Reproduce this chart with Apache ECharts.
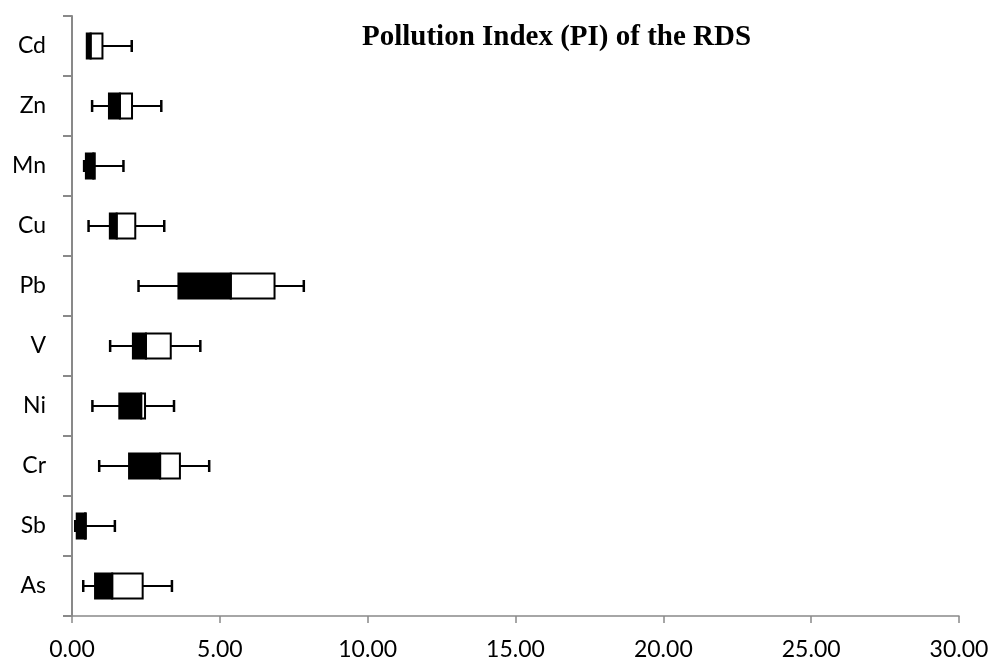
<!DOCTYPE html>
<html>
<head>
<meta charset="utf-8">
<script src="https://cdn.jsdelivr.net/npm/echarts@6/dist/echarts.min.js"></script>
<style>html,body{margin:0;padding:0;background:#fff;}#c{width:992px;height:664px;}</style>
</head>
<body>
<div id="c"></div>
<script>
// Categories bottom to top
const categories = ['As', 'Sb', 'Cr', 'Ni', 'V', 'Pb', 'Cu', 'Mn', 'Zn', 'Cd'];
const minVals    = [0.38, 0.11, 0.92, 0.69, 1.29, 2.25, 0.56, 0.41, 0.68, 0.50];
const q1Vals     = [0.78, 0.16, 1.93, 1.60, 2.06, 3.60, 1.28, 0.47, 1.25, 0.50];
const medianVals = [1.36, 0.44, 2.98, 2.34, 2.50, 5.37, 1.51, 0.72, 1.62, 0.63];
const q3Vals     = [2.39, 0.47, 3.65, 2.47, 3.34, 6.85, 2.14, 0.77, 2.03, 1.03];
const maxVals    = [3.38, 1.45, 4.64, 3.45, 4.34, 7.84, 3.12, 1.74, 3.02, 2.02];
const xTicks = [0, 5, 10, 15, 20, 25, 30];

const rows = categories.map((c, i) => [i, minVals[i], q1Vals[i], medianVals[i], q3Vals[i], maxVals[i]]);

function renderItem(params, api) {
  const yi = api.value(0);
  const pMin = api.coord([api.value(1), yi]);
  const pQ1 = api.coord([api.value(2), yi]);
  const pMd = api.coord([api.value(3), yi]);
  const pQ3 = api.coord([api.value(4), yi]);
  const pMax = api.coord([api.value(5), yi]);
  const band = api.size([0, 1])[1];
  const h = band * 0.42;
  const cy = pQ1[1];
  const capH = 12;
  const children = [];
  children.push({type: 'line', shape: {x1: pMin[0], y1: cy, x2: pQ1[0], y2: cy}, style: {stroke: '#000', lineWidth: 2}});
  children.push({type: 'line', shape: {x1: pQ3[0], y1: cy, x2: pMax[0], y2: cy}, style: {stroke: '#000', lineWidth: 2}});
  if (pQ1[0] - pMin[0] > 0.5) {
    children.push({type: 'line', shape: {x1: pMin[0], y1: cy - capH/2, x2: pMin[0], y2: cy + capH/2}, style: {stroke: '#000', lineWidth: 2.5}});
  }
  children.push({type: 'line', shape: {x1: pMax[0], y1: cy - capH/2, x2: pMax[0], y2: cy + capH/2}, style: {stroke: '#000', lineWidth: 2.5}});
  children.push({type: 'rect', shape: {x: pMd[0], y: cy - h/2, width: pQ3[0] - pMd[0], height: h}, style: {fill: '#fff', stroke: '#000', lineWidth: 2}});
  children.push({type: 'rect', shape: {x: pQ1[0], y: cy - h/2, width: pMd[0] - pQ1[0], height: h}, style: {fill: '#000', stroke: '#000', lineWidth: 2}});
  return {type: 'group', children: children};
}

const chart = echarts.init(document.getElementById('c'), null, {renderer: 'canvas'});
chart.setOption({
  animation: false,
  backgroundColor: '#fff',
  title: {
    text: 'Pollution Index (PI) of the RDS',
    left: 357, top: 18,
    textStyle: {fontFamily: 'Liberation Serif', fontWeight: 'bold', fontSize: 29, color: '#000'}
  },
  grid: {left: 72, right: 33, top: 16, bottom: 48, containLabel: false},
  xAxis: {
    type: 'value', min: xTicks[0], max: xTicks[xTicks.length - 1], interval: 5,
    axisLine: {show: true, lineStyle: {color: '#898989', width: 1.5}},
    axisTick: {show: true, length: 7, lineStyle: {color: '#898989', width: 1.5}},
    splitLine: {show: false},
    axisLabel: {margin: 22, fontFamily: 'Lato', fontSize: 23, color: '#000', formatter: v => v.toFixed(2)}
  },
  yAxis: {
    type: 'category', data: categories, boundaryGap: true,
    axisLine: {show: true, lineStyle: {color: '#898989', width: 2}},
    axisTick: {show: true, length: 9, alignWithLabel: false, lineStyle: {color: '#898989', width: 2}},
    axisLabel: {margin: 26, fontFamily: 'Lato', fontSize: 23, color: '#000'}
  },
  series: [{
    type: 'custom',
    renderItem: renderItem,
    encode: {x: [1, 2, 3, 4, 5], y: 0},
    data: rows,
    clip: false
  }]
});
</script>
</body>
</html>
